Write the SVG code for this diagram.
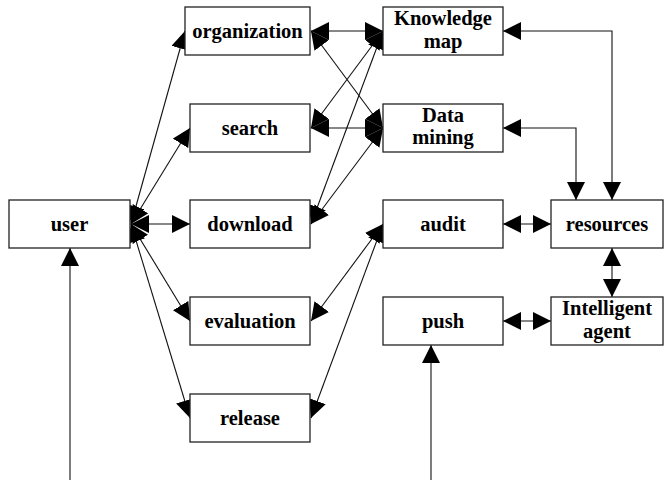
<svg xmlns="http://www.w3.org/2000/svg" width="664" height="480" viewBox="0 0 664 480">
  <style>
    .box { fill: #ffffff; stroke: #222222; stroke-width: 1.3; }
    .lbl { font-family: "Liberation Serif", "Times New Roman", serif; font-weight: bold; font-size: 20.5px; fill: #000000; text-anchor: middle; }
    .edge { fill: none; stroke: #111111; stroke-width: 1.1; }
    .one { marker-end: url(#head); }
    .two { marker-start: url(#head); marker-end: url(#head); }
  </style>
  <defs>
    <marker id="head" viewBox="0 0 18 18" refX="18" refY="9" markerWidth="18" markerHeight="18" markerUnits="userSpaceOnUse" orient="auto-start-reverse">
      <path d="M0,0 L18,9 L0,18 z" fill="#000000"/>
    </marker>
  </defs>
  <rect width="664" height="480" fill="#ffffff"/>

  <g id="connectors">
    <!-- user to functions -->
    <line class="edge two" x1="131" y1="224" x2="185" y2="31"/>
    <line class="edge two" x1="131" y1="224" x2="190" y2="128"/>
    <line class="edge two" x1="131" y1="224" x2="190" y2="224"/>
    <line class="edge two" x1="131" y1="224" x2="190" y2="321"/>
    <line class="edge two" x1="131" y1="224" x2="190" y2="418"/>
    <!-- functions to knowledge map / data mining -->
    <line class="edge two" x1="311" y1="31" x2="383" y2="31"/>
    <line class="edge two" x1="311" y1="31" x2="383" y2="128"/>
    <line class="edge two" x1="311" y1="128" x2="383" y2="31"/>
    <line class="edge two" x1="311" y1="128" x2="383" y2="128"/>
    <line class="edge two" x1="311" y1="224" x2="383" y2="31"/>
    <line class="edge two" x1="311" y1="224" x2="383" y2="128"/>
    <!-- evaluation / release to audit -->
    <line class="edge two" x1="311" y1="321" x2="383" y2="224"/>
    <line class="edge two" x1="311" y1="418" x2="383" y2="224"/>
    <!-- right column -->
    <line class="edge two" x1="503" y1="224" x2="551" y2="224"/>
    <line class="edge two" x1="503" y1="321" x2="551" y2="321"/>
    <line class="edge two" x1="612" y1="248" x2="612" y2="297"/>
    <polyline class="edge two" points="503,128 576,128 576,200"/>
    <polyline class="edge two" points="503,31 612,31 612,200"/>
    <!-- inputs from below -->
    <line class="edge one" x1="70" y1="480" x2="70" y2="248"/>
    <line class="edge one" x1="431" y1="480" x2="431" y2="345"/>
  </g>

  <g id="user">
    <rect class="box" x="9" y="200" width="121" height="48"/>
    <text class="lbl" x="69.5" y="230.5">user</text>
  </g>
  <g id="organization">
    <rect class="box" x="185" y="7" width="125" height="48"/>
    <text class="lbl" x="247.5" y="37.5">organization</text>
  </g>
  <g id="search">
    <rect class="box" x="190" y="104" width="120" height="48"/>
    <text class="lbl" x="250" y="134.5">search</text>
  </g>
  <g id="download">
    <rect class="box" x="190" y="200" width="120" height="48"/>
    <text class="lbl" x="250" y="230.5">download</text>
  </g>
  <g id="evaluation">
    <rect class="box" x="190" y="297" width="120" height="48"/>
    <text class="lbl" x="250" y="327.5">evaluation</text>
  </g>
  <g id="release">
    <rect class="box" x="190" y="394" width="120" height="48"/>
    <text class="lbl" x="250" y="424.5">release</text>
  </g>
  <g id="knowledge-map">
    <rect class="box" x="383" y="7" width="120" height="48"/>
    <text class="lbl" x="443" y="25">Knowledge</text>
    <text class="lbl" x="443" y="48">map</text>
  </g>
  <g id="data-mining">
    <rect class="box" x="383" y="104" width="120" height="48"/>
    <text class="lbl" x="443" y="122">Data</text>
    <text class="lbl" x="443" y="144">mining</text>
  </g>
  <g id="audit">
    <rect class="box" x="383" y="200" width="120" height="48"/>
    <text class="lbl" x="443" y="230.5">audit</text>
  </g>
  <g id="push">
    <rect class="box" x="383" y="297" width="120" height="48"/>
    <text class="lbl" x="443" y="327.5">push</text>
  </g>
  <g id="resources">
    <rect class="box" x="551" y="200" width="112" height="48"/>
    <text class="lbl" x="607" y="230.5">resources</text>
  </g>
  <g id="intelligent-agent">
    <rect class="box" x="551" y="297" width="112" height="48"/>
    <text class="lbl" x="607" y="315">Intelligent</text>
    <text class="lbl" x="607" y="338">agent</text>
  </g>
</svg>
